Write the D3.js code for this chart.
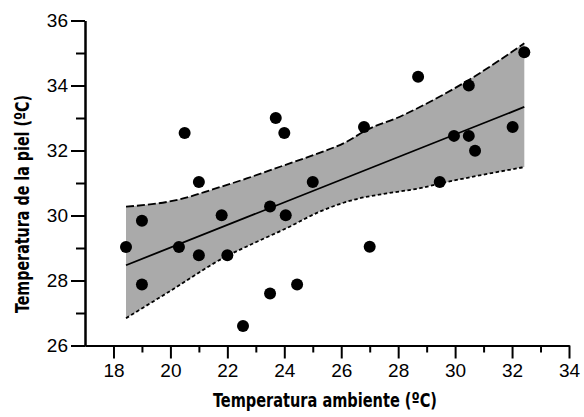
<!DOCTYPE html>
<html>
<head>
<meta charset="utf-8">
<script src="https://cdn.jsdelivr.net/npm/d3@7"></script>
<style>
  html, body { margin: 0; padding: 0; background: #fff; }
  svg { display: block; }
  .tick text { font-family: "Liberation Sans", Arial, Helvetica, sans-serif; font-size: 19px; fill: #000; }
  .title { font-family: "Liberation Sans Narrow", "DejaVu Sans Condensed", sans-serif; font-weight: bold; font-size: 20px; fill: #000; }
</style>
</head>
<body>
<svg id="chart" width="584" height="417"></svg>
<script>
// Data
const ambient = [18.44, 19.0, 19.0, 20.3, 20.5, 21.0, 21.0, 21.8, 22.0, 22.55, 23.5, 23.5, 23.7, 24.0, 24.05, 24.45, 25.0, 26.8, 27.0, 28.7, 29.46, 29.96, 30.48, 30.48, 30.7, 32.02, 32.43];
const skin    = [29.03, 29.84, 27.88, 29.03, 32.54, 31.03, 28.78, 30.01, 28.78, 26.6, 30.28, 27.6, 33.0, 32.54, 30.01, 27.88, 31.03, 32.72, 29.04, 34.27, 31.03, 32.45, 34.0, 32.45, 31.99, 32.72, 35.02];

const fitX = [18.44, 32.43];
const fitY = [28.47, 33.34];

const upperX = [18.44, 20.34, 21.51, 22.68, 23.85, 25.02, 26.19, 26.89, 28.06, 29.12, 30.48, 32.43];
const upperY = [30.27, 30.50, 30.81, 31.14, 31.50, 31.86, 32.27, 32.63, 33.04, 33.50, 34.17, 35.30];
const lowerX = [18.44, 19.87, 21.98, 22.91, 24.08, 25.25, 26.42, 27.60, 28.77, 29.46, 32.43];
const lowerY = [26.84, 27.61, 28.75, 29.14, 29.61, 30.12, 30.48, 30.68, 30.84, 30.98, 31.49];

const xMajorTicks = [18, 20, 22, 24, 26, 28, 30, 32, 34];
const xMinorTicks = [19, 21, 23, 25, 27, 29, 31, 33];
const yMajorTicks = [26, 28, 30, 32, 34, 36];
const yMinorTicks = [27, 29, 31, 33, 35];

const xLabel = "Temperatura ambiente (ºC)";
const yLabel = "Temperatura de la piel (ºC)";

const svg = d3.select("#chart");
const x = d3.scaleLinear().domain([17, 34]).range([85, 569]);
const y = d3.scaleLinear().domain([26, 36]).range([345.5, 20.5]);

const upper = upperX.map((v, i) => [v, upperY[i]]);
const lower = lowerX.map((v, i) => [v, lowerY[i]]);

// Band polygon
const lineGen = d3.line().x(d => x(d[0])).y(d => y(d[1])).curve(d3.curveMonotoneX);
const upperPath = lineGen(upper);
const lowerRevPath = lineGen(lower.slice().reverse());
svg.append("path")
  .attr("d", upperPath + "L" + lowerRevPath.slice(1) + "Z")
  .attr("fill", "#aaaaaa")
  .attr("stroke", "none");

svg.append("path").attr("d", upperPath)
  .attr("fill", "none").attr("stroke", "#000").attr("stroke-width", 1.8)
  .attr("stroke-dasharray", "8,3");
svg.append("path").attr("d", lineGen(lower))
  .attr("fill", "none").attr("stroke", "#000").attr("stroke-width", 1.8)
  .attr("stroke-dasharray", "3.5,2.5");

// Regression line
svg.append("path")
  .attr("d", d3.line().x(d => x(d[0])).y(d => y(d[1]))(fitX.map((v, i) => [v, fitY[i]])))
  .attr("fill", "none").attr("stroke", "#000").attr("stroke-width", 1.8);

// Points
svg.append("g").selectAll("circle")
  .data(ambient.map((v, i) => [v, skin[i]]))
  .join("circle")
  .attr("cx", d => x(d[0])).attr("cy", d => y(d[1])).attr("r", 6)
  .attr("fill", "#000");

// Axes
function styleAxis(g) {
  g.selectAll("path.domain").attr("stroke", "#000").attr("stroke-width", 2);
  g.selectAll(".tick line").attr("stroke", "#000").attr("stroke-width", 2);
}
const gx = svg.append("g").attr("transform", `translate(0,${y(26)})`);
gx.call(d3.axisBottom(x).tickValues(xMinorTicks).tickSize(7).tickSizeOuter(0).tickFormat(""));
gx.call(g => styleAxis(g));
const gx2 = svg.append("g").attr("transform", `translate(0,${y(26)})`);
gx2.call(d3.axisBottom(x).tickValues(xMajorTicks).tickSize(13).tickSizeOuter(0).tickPadding(5).tickFormat(d3.format("d")));
gx2.call(g => styleAxis(g));
gx2.selectAll(".tick text").attr("font-family", null).attr("font-size", null);

const gy = svg.append("g").attr("transform", `translate(${x(17)},0)`);
gy.call(d3.axisLeft(y).tickValues(yMinorTicks).tickSize(9).tickSizeOuter(0).tickFormat(""));
gy.call(g => styleAxis(g));
const gy2 = svg.append("g").attr("transform", `translate(${x(17)},0)`);
gy2.call(d3.axisLeft(y).tickValues(yMajorTicks).tickSize(14).tickSizeOuter(0).tickPadding(3).tickFormat(d3.format("d")));
gy2.call(g => styleAxis(g));
gy2.selectAll(".tick text").attr("font-family", null).attr("font-size", null);

// Titles
svg.append("text").attr("class", "title")
  .attr("x", 325).attr("y", 406.5).attr("text-anchor", "middle")
  .attr("textLength", 224).attr("lengthAdjust", "spacingAndGlyphs")
  .text(xLabel);
svg.append("text").attr("class", "title")
  .attr("transform", "translate(28.5,204) rotate(-90)")
  .attr("text-anchor", "middle")
  .attr("textLength", 218).attr("lengthAdjust", "spacingAndGlyphs")
  .text(yLabel);
</script>
</body>
</html>
